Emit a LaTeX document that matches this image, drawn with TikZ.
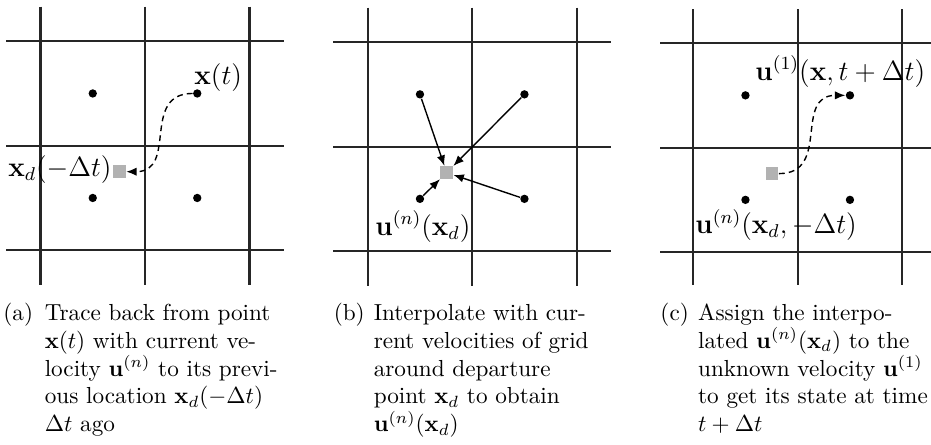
\documentclass[tikz,border=0pt]{standalone}
\usetikzlibrary{arrows.meta}
\begin{document}
\begin{tikzpicture}[x=0.431pt,y=-0.431pt,
  gridline/.style={line width=0.9pt, black!85},
  dot/.style={circle,fill,inner sep=0pt,minimum size=3.6pt},
  dep/.style={rectangle,fill=gray!60,inner sep=0pt,minimum size=5.4pt},
  conn/.style={semithick,-{Latex[length=4.5pt,width=3.6pt]}},
  trace/.style={semithick,dash pattern=on 2.5pt off 1.8pt,-{Latex[length=4.5pt,width=3.6pt]}},
  lab/.style={inner sep=0pt,font=\large},
  captxt/.style={inner sep=0pt,anchor=base west}]
\useasboundingbox (0,0) rectangle (931,444);

% ---------- panel (a)
\begin{scope}[shift={(145,145.7)}]
  \foreach \k in {-104.5,0,104.5} {
    \draw[gridline] (\k,-139) -- (\k,139);
    \draw[gridline] (-139,\k) -- (139,\k);
  }
  \node[dot] (a1) at (-52.25,-52.25) {};
  \node[dot] (a2) at (52.25,-52.25) {};
  \node[dot] (a3) at (-52.25,52.25) {};
  \node[dot] (a4) at (52.25,52.25) {};
  \node[dep] (asq) at (-25.5,26) {};
\end{scope}
\draw[trace] (a2) to[out=180,in=0,looseness=1.3] (asq);
\node[lab,anchor=base west] (lxt) at (194,84) {$\mathbf{x}(t)$};
\node[lab,anchor=base east] (lxd) at (112,176.7) {$\mathbf{x}_d(-\Delta t)$};

% ---------- panel (b)
\begin{scope}[shift={(472.2,146.6)}]
  \foreach \k in {-104.5,0,104.5} {
    \draw[gridline] (\k,-139) -- (\k,139);
    \draw[gridline] (-139,\k) -- (139,\k);
  }
  \node[dot] (b1) at (-52.25,-52.25) {};
  \node[dot] (b2) at (52.25,-52.25) {};
  \node[dot] (b3) at (-52.25,52.25) {};
  \node[dot] (b4) at (52.25,52.25) {};
  \node[dep] (bsq) at (-25.5,26) {};
\end{scope}
\draw[conn] (b1) -- (bsq);
\draw[conn] (b2) -- (bsq);
\draw[conn] (b3) -- (bsq);
\draw[conn] (b4) -- (bsq);
\node[lab,anchor=base west] (lub) at (375,235) {$\mathbf{u}^{(n)}(\mathbf{x}_d)$};

% ---------- panel (c)
\begin{scope}[shift={(797.7,147.6)}]
  \foreach \k in {-104.5,0,104.5} {
    \draw[gridline] (\k,-138.5) -- (\k,137.5);
    \draw[gridline] (-137.7,\k) -- (133.3,\k);
  }
  \node[dot] (c1) at (-52.25,-52.25) {};
  \node[dot] (c2) at (52.25,-52.25) {};
  \node[dot] (c3) at (-52.25,52.25) {};
  \node[dot] (c4) at (52.25,52.25) {};
  \node[dep] (csq) at (-25.5,26) {};
\end{scope}
\draw[trace] (csq) to[out=0,in=180,looseness=1.3] (c2);
\node[lab,anchor=base west] (luc1) at (755,80) {$\mathbf{u}^{(1)}(\mathbf{x},t+\Delta t)$};
\node[lab,anchor=base west] (luc2) at (695,233.3) {$\mathbf{u}^{(n)}(\mathbf{x}_d,-\Delta t)$};

% ---------- captions
\node[captxt] (capa) at (3,320.5) {(a)};
\node[captxt] (a-l1) at (44.3,320.5) {Trace back from point};
\node[captxt] (a-l2) at (44.3,348.3) {$\mathbf{x}(t)$ with current ve-};
\node[captxt] (a-l3) at (44.3,376.1) {locity $\mathbf{u}^{(n)}$ to its previ-};
\node[captxt] (a-l4) at (44.3,403.9) {ous location $\mathbf{x}_d(-\Delta t)$};
\node[captxt] (a-l5) at (44.3,431.7) {$\Delta t$ ago};

\node[captxt] (capb) at (333.3,320.5) {(b)};
\node[captxt] (b-l1) at (373.3,320.5) {Interpolate with cur-};
\node[captxt] (b-l2) at (373.3,348.3) {rent velocities of grid};
\node[captxt] (b-l3) at (373.3,376.1) {around departure};
\node[captxt] (b-l4) at (373.3,403.9) {point $\mathbf{x}_d$ to obtain};
\node[captxt] (b-l5) at (373.3,431.7) {$\mathbf{u}^{(n)}(\mathbf{x}_d)$};

\node[captxt] (capc) at (660,320.5) {(c)};
\node[captxt] (c-l1) at (697.7,320.5) {Assign the interpo-};
\node[captxt] (c-l2) at (697.7,348.3) {lated $\mathbf{u}^{(n)}(\mathbf{x}_d)$ to the};
\node[captxt] (c-l3) at (697.7,376.1) {unknown velocity $\mathbf{u}^{(1)}$};
\node[captxt] (c-l4) at (697.7,403.9) {to get its state at time};
\node[captxt] (c-l5) at (697.7,431.7) {$t+\Delta t$};
\end{tikzpicture}
\end{document}
